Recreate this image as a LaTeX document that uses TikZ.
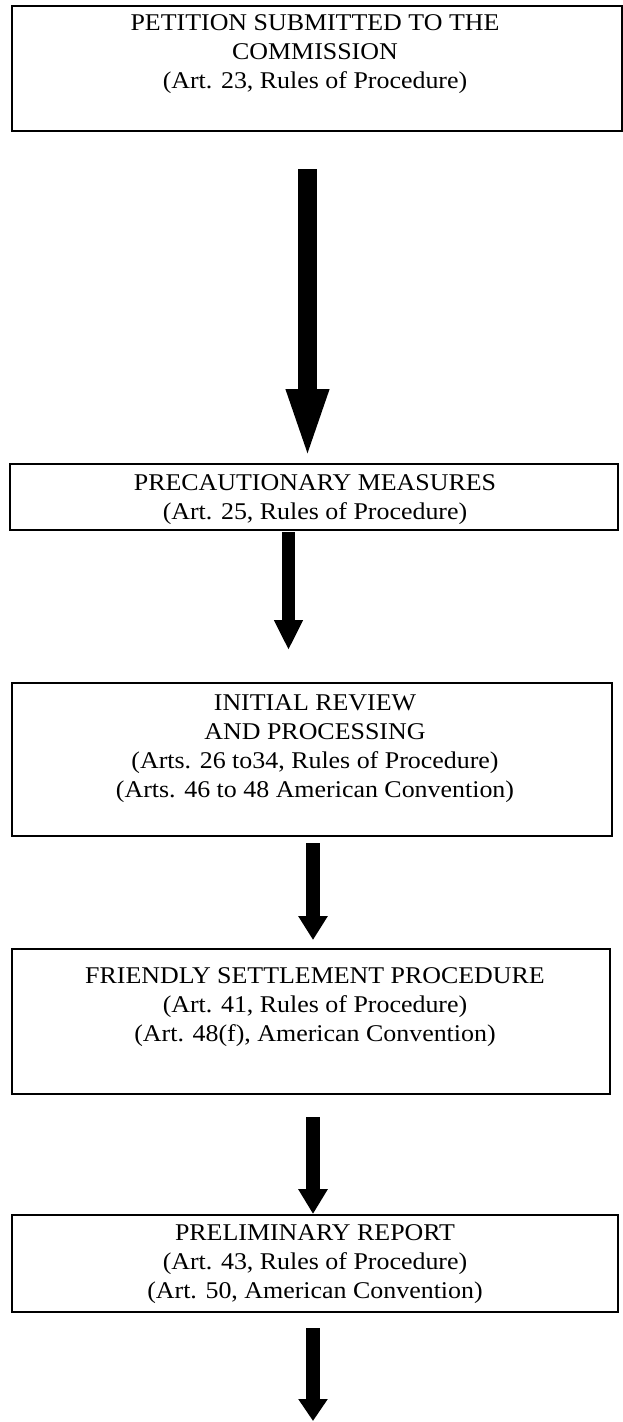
\documentclass[tikz,border=0pt]{standalone}
\usepackage{fontspec}
\setmainfont{Liberation Serif}[FakeStretch=1.08]
\usetikzlibrary{arrows.meta,calc}
\tikzset{
  box/.style={draw, line width=1.8pt, inner sep=0pt, anchor=north west},
  txt/.style={align=center, font=\fontsize{24}{29}\selectfont, inner sep=0pt, anchor=north},
  blockarrow/.style n args={3}{line width=#1, -{Triangle[length=#2, width=#3]}}
}
\begin{document}
\begin{tikzpicture}[x=1pt,y=-1pt]
\useasboundingbox (0,0) rectangle (623,1422);
% boxes
\node[box, minimum width=610pt, minimum height=125pt] (b1) at (11,5) {};
\node[box, minimum width=608pt, minimum height=66pt] (b2) at (9,463) {};
\node[box, minimum width=600pt, minimum height=153pt] (b3) at (11,682) {};
\node[box, minimum width=598pt, minimum height=145pt] (b4) at (11,948) {};
\node[box, minimum width=606pt, minimum height=97pt] (b5) at (11,1214) {};
% texts
\node[txt] (t1) at (315,14) {PETITION SUBMITTED TO THE\\COMMISSION\\(Art. 23, Rules of Procedure)};
\node[txt] (t2) at (315,474) {PRECAUTIONARY MEASURES\\(Art. 25, Rules of Procedure)};
\node[txt] (t3) at (315,694) {INITIAL REVIEW\\AND PROCESSING\\(Arts. 26 to34, Rules of Procedure)\\(Arts. 46 to 48 American Convention)};
\node[txt] (t4) at (315,967) {FRIENDLY SETTLEMENT PROCEDURE\\(Art. 41, Rules of Procedure)\\(Art. 48(f), American Convention)};
\node[txt] (t5) at (315,1224) {PRELIMINARY REPORT\\(Art. 43, Rules of Procedure)\\(Art. 50, American Convention)};
% arrow anchors
\coordinate (a1s) at (307.5,169);
\coordinate (a2s) at (288.5,532);
\coordinate (a2e) at (288.5,650);
\coordinate (a3s) at (313,843);
\coordinate (a3e) at (313,940);
\coordinate (a4s) at (313,1117);
\coordinate (a5s) at (313,1328);
\coordinate (a5e) at (313,1421);
% arrows
\draw[blockarrow={19pt}{74pt}{37pt}] (a1s) -- (a1s |- b2.north);
\draw[blockarrow={13pt}{30pt}{27pt}] (a2s) -- (a2e);
\draw[blockarrow={14pt}{24pt}{28pt}] (a3s) -- (a3e);
\draw[blockarrow={14pt}{25pt}{28pt}] (a4s) -- (a4s |- b5.north);
\draw[blockarrow={14pt}{22pt}{28pt}] (a5s) -- (a5e);
\end{tikzpicture}
\end{document}
